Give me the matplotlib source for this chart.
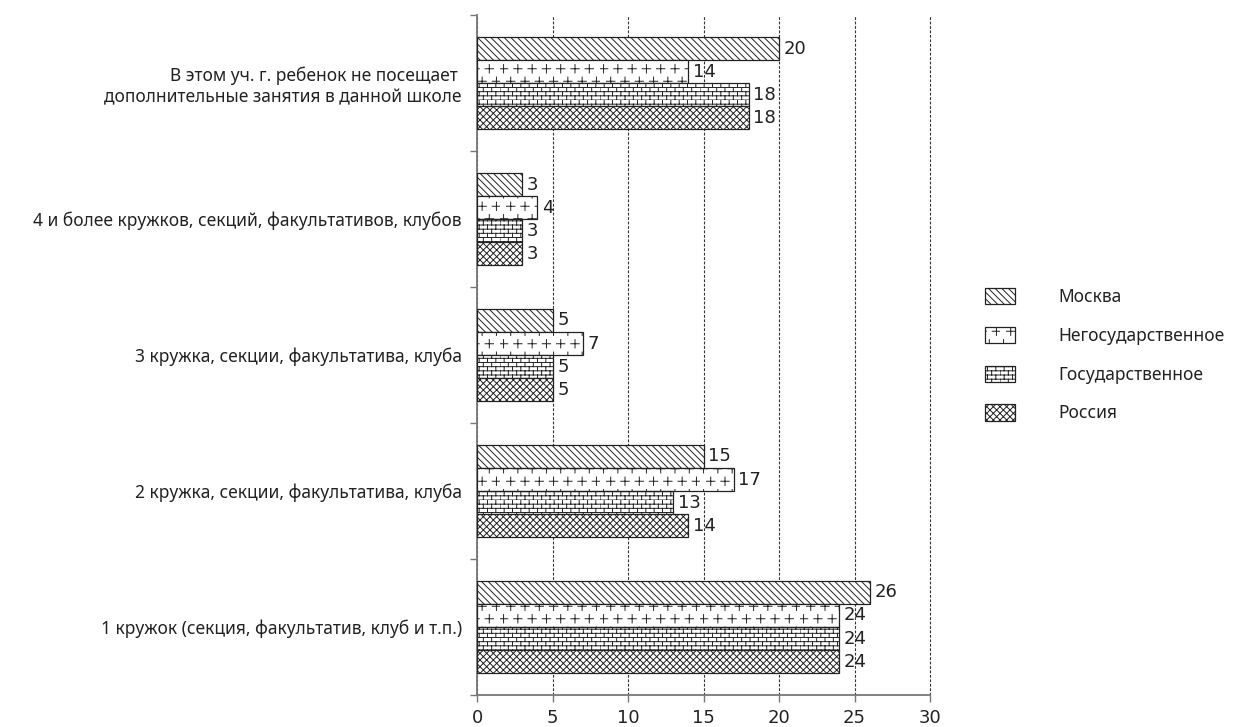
import numpy as np
import matplotlib
matplotlib.use('Agg')
import matplotlib.pyplot as plt
import matplotlib.hatch as mhatch
from matplotlib.path import Path

# категории сверху вниз
categories = [
    'В этом уч. г. ребенок не посещает \nдополнительные занятия в данной школе',
    '4 и более кружков, секций, факультативов, клубов',
    '3 кружка, секции, факультатива, клуба',
    '2 кружка, секции, факультатива, клуба',
    '1 кружок (секция, факультатив, клуб и т.п.)',
]
series_names = ['Москва', 'Негосударственное', 'Государственное', 'Россия']
moskva = [20, 3, 5, 15, 26]
negos = [14, 4, 7, 17, 24]
gos = [18, 3, 5, 13, 24]
rossiya = [18, 3, 5, 14, 24]
x_ticks = [0, 5, 10, 15, 20, 25, 30]


# свои штриховки: крестики и кирпичи
class PlusHatch(mhatch.HatchPatternBase):
    def __init__(self, hatch, density):
        c = hatch.count('*')
        self.n = 8 * c   # ряды
        self.m = 7 * c   # крестиков в ряду
        self.num_vertices = self.n * self.m * 4

    def set_vertices_and_codes(self, vertices, codes):
        n, m = self.n, self.m
        a = 0.042
        segs = []
        for k in range(n):
            y = (k + 0.5) / n
            shift = 0.5 / m if k % 2 else 0
            for j in range(m):
                x = (j + 0.25) / m + shift
                segs.append([[x - a, y], [x + a, y]])
                segs.append([[x, y - a], [x, y + a]])
        vertices[:] = np.array(segs).reshape(-1, 2)
        codes[0::2] = Path.MOVETO
        codes[1::2] = Path.LINETO


class BrickHatch(mhatch.HatchPatternBase):
    def __init__(self, hatch, density):
        self.n = hatch.count('.') * density
        self.m = self.n // 2
        self.num_vertices = (self.n + self.n * self.m) * 2

    def set_vertices_and_codes(self, vertices, codes):
        n, m = self.n, self.m
        segs = []
        for k in range(n):
            y = k / n
            segs.append([[0, y], [1, y]])
            shift = 0.5 / m if k % 2 else 0
            for j in range(m):
                x = j / m + shift
                segs.append([[x, y], [x, y + 1 / n]])
        vertices[:] = np.array(segs).reshape(-1, 2)
        codes[0::2] = Path.MOVETO
        codes[1::2] = Path.LINETO


mhatch._hatch_types = [h for h in mhatch._hatch_types
                       if h not in (mhatch.Stars, mhatch.SmallFilledCircles)]
mhatch._hatch_types += [PlusHatch, BrickHatch]

plt.rcParams['hatch.linewidth'] = 0.7
plt.rcParams['hatch.color'] = '#222222'

label_font = ['Noto Sans', 'DejaVu Sans']
num_font = ['Liberation Sans Narrow', 'DejaVu Sans Condensed', 'DejaVu Sans']

fig = plt.figure(figsize=(12.33, 7.27), dpi=100)
ax = fig.add_axes([0.3869, 0.044, 0.3674, 0.935])

data = [moskva, negos, gos, rossiya]
hatches = ['\\\\\\\\\\', '*', '....', 'xxxxx']
ypos = np.arange(len(categories))[::-1]
h = 0.17
offsets = [1.5 * h, 0.5 * h, -0.5 * h, -1.5 * h]

for vals, name, hat, off in zip(data, series_names, hatches, offsets):
    bars = ax.barh(ypos + off, vals, height=h, color='white', edgecolor='#222222',
                   linewidth=0.9, hatch=hat, label=name, zorder=3)
    for b, v in zip(bars, vals):
        ax.text(v + 0.3, b.get_y() + h / 2, str(v), va='center', ha='left',
                fontsize=13, family=num_font, color='#222222', zorder=4)

ax.set_xlim(0, 30)
ax.set_ylim(-0.5, len(categories) - 0.5)
ax.set_xticks(x_ticks)
ax.set_xticklabels([str(t) for t in x_ticks], family=num_font, fontsize=13)
ax.set_yticks(ypos)
ax.set_yticklabels(categories, family=label_font, fontsize=12.5)
ax.set_yticks(np.arange(-0.5, len(categories)), minor=True)
ax.tick_params(axis='y', which='major', length=0, pad=11, colors='#222222')
ax.tick_params(axis='y', which='minor', length=5, color='#777777', width=1)
ax.tick_params(axis='x', length=5, color='#777777', width=1, pad=5, colors='#222222')
ax.tick_params(axis='x', color='#777777')

ax.xaxis.grid(True, color='#333333', linestyle=(0, (2.5, 1.5)), linewidth=0.8)
for gl in ax.get_xgridlines():
    gl.set_clip_on(False)
ax.set_axisbelow(True)
for s in ['top', 'right']:
    ax.spines[s].set_visible(False)
for s in ['left', 'bottom']:
    ax.spines[s].set_color('#777777')
    ax.spines[s].set_linewidth(1.3)

leg = fig.legend(loc='upper left', bbox_to_anchor=(0.799, 0.604), frameon=False,
                 prop={'family': label_font, 'size': 12.5}, handlelength=1.72,
                 handleheight=1.05, labelspacing=1.2, handletextpad=2.5,
                 borderpad=0, borderaxespad=0)
for t in leg.get_texts():
    t.set_color('#222222')

fig.savefig('out.png', dpi=100)
